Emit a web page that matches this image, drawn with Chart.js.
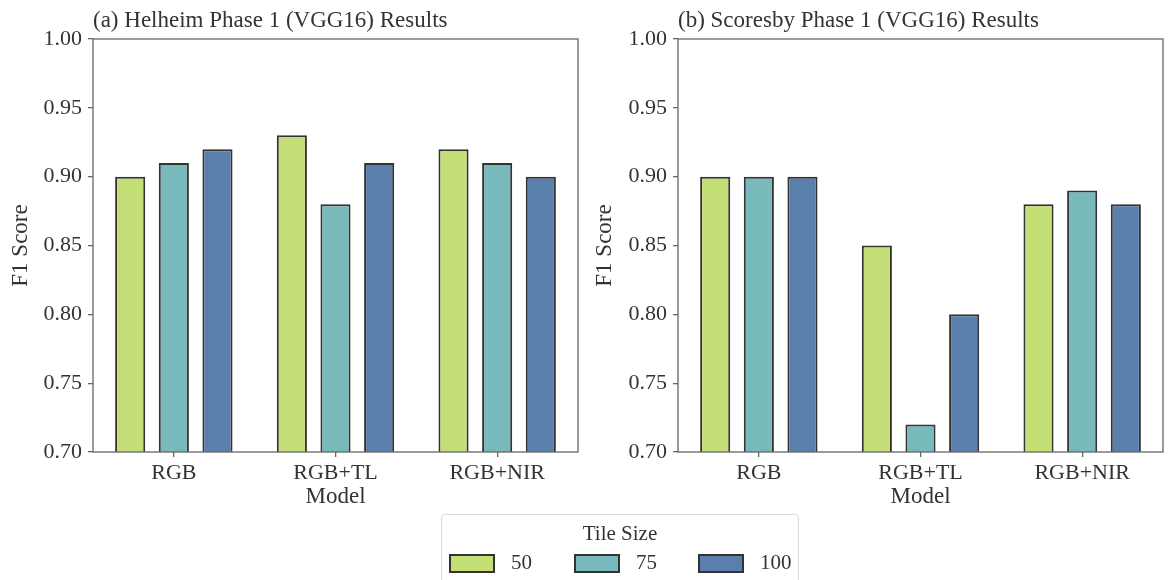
<!DOCTYPE html>
<html>
<head>
<meta charset="utf-8">
<script src="https://cdn.jsdelivr.net/npm/chart.js@4"></script>
<style>
  body { margin: 0; background: #fff; width: 1168px; height: 580px; overflow: hidden; position: relative; font-family: "Liberation Serif", serif; }
  .box { position: absolute; top: 0; width: 584px; height: 515px; }
  #legend { position: absolute; left: 441px; top: 514px; width: 358px; height: 80px; border: 1px solid #d9d9d9; border-radius: 4px; box-sizing: border-box; color: #333; font-size: 21px; }
  #legend .ttl { position: absolute; top: 6px; width: 100%; text-align: center; }
  #legend .sw { position: absolute; top: 39px; width: 42px; height: 15px; border: 2px solid #333; box-sizing: content-box; }
  #legend .lb { position: absolute; top: 35px; }
</style>
</head>
<body>
<div class="box" style="left:0"><canvas id="c1"></canvas></div>
<div class="box" style="left:584px"><canvas id="c2"></canvas></div>
<div id="legend"><div class="ttl">Tile Size</div></div>
<script>
let models = ["RGB", "RGB+TL", "RGB+NIR"];
let tileSizes = ["50", "75", "100"];
let colors = ["#c5df77", "#78b9bb", "#5a7fac"];
let yTicks = [0.70, 0.75, 0.80, 0.85, 0.90, 0.95, 1.00];

// Helheim, one array per tile size
let helheim50 = [0.90, 0.93, 0.92];
let helheim75 = [0.91, 0.88, 0.91];
let helheim100 = [0.92, 0.91, 0.90];

// Scoresby
let scoresby50 = [0.90, 0.85, 0.88];
let scoresby75 = [0.90, 0.72, 0.89];
let scoresby100 = [0.90, 0.80, 0.88];

let axisColor = "#666";
let textColor = "#333";
let tickFont = { family: "Liberation Serif", size: 22 };
let labelFont = { family: "Liberation Serif", size: 23 };

// top/right spines + panel title
let frame = {
    id: "frame",
    afterDraw(chart, args, opts){
        let a = chart.chartArea, ctx = chart.ctx;
        ctx.save();
        ctx.strokeStyle = axisColor;
        ctx.lineWidth = 1.3;
        ctx.strokeRect(a.left, a.top, a.right - a.left, a.bottom - a.top);
        ctx.fillStyle = textColor;
        ctx.font = "23px 'Liberation Serif'";
        ctx.textBaseline = "alphabetic";
        ctx.fillText(opts.text, a.left, 27);
        ctx.restore();
    }
};

function makeChart(id, title, s50, s75, s100, yWidth, padRight){
    let series = [s50, s75, s100];
    new Chart(document.getElementById(id), {
        type: "bar",
        data: {
            labels: models,
            datasets: series.map((d, i) => ({
                label: tileSizes[i],
                data: d,
                backgroundColor: colors[i],
                borderColor: "#333",
                borderWidth: 2,
                categoryPercentage: 0.81,
                barPercentage: 0.69
            }))
        },
        options: {
            responsive: false,
            animation: false,
            layout: { padding: { top: 39, right: padRight, left: 0, bottom: 0 } },
            plugins: {
                legend: { display: false },
                tooltip: { enabled: false },
                frame: { text: title }
            },
            scales: {
                x: {
                    grid: { drawOnChartArea: false, offset: false, tickLength: 5, color: axisColor, lineWidth: 1.3 },
                    border: { display: false },
                    ticks: { font: tickFont, color: textColor, padding: 3 },
                    title: { display: true, text: "Model", font: labelFont, color: textColor, padding: { top: 0, bottom: 4 } },
                    afterFit(s){ s.height = 63; }
                },
                y: {
                    min: 0.70,
                    max: 1.00,
                    afterBuildTicks(s){ s.ticks = yTicks.map(v => ({ value: v })); },
                    grid: { drawOnChartArea: false, tickLength: 5, color: axisColor, lineWidth: 1.3 },
                    border: { display: false },
                    ticks: { font: tickFont, color: textColor, padding: 6, callback: v => v.toFixed(2) },
                    title: { display: true, text: "F1 Score", font: labelFont, color: textColor, padding: { top: 7, bottom: 0 } },
                    afterFit(s){ s.width = yWidth; }
                }
            }
        },
        plugins: [frame]
    });
}

document.getElementById("c1").width = 584;
document.getElementById("c1").height = 515;
document.getElementById("c2").width = 584;
document.getElementById("c2").height = 515;

makeChart("c1", "(a) Helheim Phase 1 (VGG16) Results", helheim50, helheim75, helheim100, 93, 6);
makeChart("c2", "(b) Scoresby Phase 1 (VGG16) Results", scoresby50, scoresby75, scoresby100, 94, 5);

// legend
let leg = document.getElementById("legend");
let swX = [7, 132, 256];
tileSizes.forEach((t, i) => {
    let sw = document.createElement("div");
    sw.className = "sw";
    sw.style.left = swX[i] + "px";
    sw.style.background = colors[i];
    leg.appendChild(sw);
    let lb = document.createElement("div");
    lb.className = "lb";
    lb.style.left = (swX[i] + 62) + "px";
    lb.innerText = t;
    leg.appendChild(lb);
});
</script>
</body>
</html>
